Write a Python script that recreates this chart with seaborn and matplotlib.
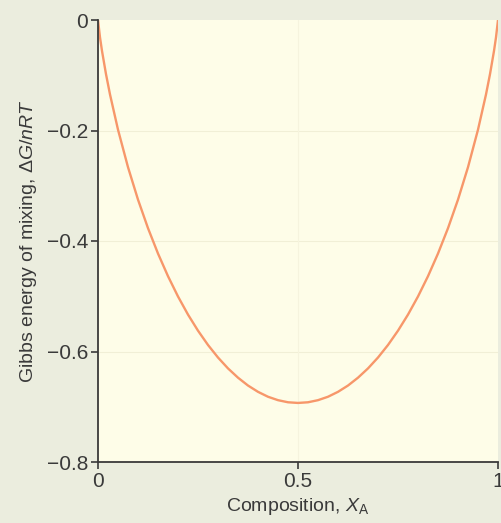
import matplotlib
matplotlib.use("Agg")
import matplotlib.pyplot as plt
import seaborn as sns
import pandas as pd
from matplotlib.ticker import FixedLocator, FixedFormatter

# Values
composition = [0.0, 0.005, 0.01, 0.02, 0.03, 0.05, 0.075, 0.1, 0.125, 0.15, 0.175, 0.2,
               0.225, 0.25, 0.275, 0.3, 0.325, 0.35, 0.375, 0.4, 0.425, 0.45, 0.475, 0.5,
               0.525, 0.55, 0.575, 0.6, 0.625, 0.65, 0.675, 0.7, 0.725, 0.75, 0.775, 0.8,
               0.825, 0.85, 0.875, 0.9, 0.925, 0.95, 0.97, 0.98, 0.99, 0.995, 1.0]
gibbs = [0.0, -0.0315, -0.056, -0.098, -0.1347, -0.1985, -0.2664, -0.3251, -0.3768, -0.4227,
         -0.4637, -0.5004, -0.5332, -0.5623, -0.5882, -0.6109, -0.6306, -0.6474, -0.6616,
         -0.673, -0.6819, -0.6881, -0.6919, -0.6931,
         -0.6919, -0.6881, -0.6819, -0.673, -0.6616, -0.6474, -0.6306, -0.6109, -0.5882,
         -0.5623, -0.5332, -0.5004, -0.4637, -0.4227, -0.3768, -0.3251, -0.2664, -0.1985,
         -0.1347, -0.098, -0.056, -0.0315, 0.0]
x_ticks = [0, 0.5, 1]
x_tick_labels = ["0", "0.5", "1"]
y_ticks = [0, -0.2, -0.4, -0.6, -0.8]
y_tick_labels = ["0", "\u22120.2", "\u22120.4", "\u22120.6", "\u22120.8"]

df = pd.DataFrame({"x": composition, "y": gibbs})

sns.set_theme(style="white")
plt.rcParams["font.family"] = ["Liberation Sans", "DejaVu Sans"]
plt.rcParams["mathtext.fontset"] = "custom"
plt.rcParams["mathtext.rm"] = "Liberation Sans"
plt.rcParams["mathtext.it"] = "Liberation Sans:italic"

text_color = "#3a3a3a"
fig = plt.figure(figsize=(5.01, 5.23), dpi=100)
fig.patch.set_facecolor("#EBEDDE")
ax = fig.add_axes([98 / 501, 1 - 462 / 523, 400 / 501, 442 / 523])
ax.set_facecolor("#FEFDE8")

sns.lineplot(data=df, x="x", y="y", ax=ax, color="#F7976A", linewidth=1.7, sort=False)

ax.set_xlim(0, 1)
ax.set_ylim(-0.8, 0)
ax.xaxis.set_major_locator(FixedLocator(x_ticks))
ax.xaxis.set_major_formatter(FixedFormatter(x_tick_labels))
ax.yaxis.set_major_locator(FixedLocator(y_ticks))
ax.yaxis.set_major_formatter(FixedFormatter(y_tick_labels))

for g in y_ticks[1:-1]:
    ax.axhline(g, color="#F1EFD6", linewidth=0.8, zorder=0)
ax.axvline(0.5, color="#F6F4DE", linewidth=0.8, zorder=0)

for s in ["top", "right"]:
    ax.spines[s].set_visible(False)
for s in ["left", "bottom"]:
    ax.spines[s].set_color(text_color)
    ax.spines[s].set_linewidth(1.3)

ax.tick_params(axis="both", direction="out", length=5, width=1.2, color=text_color,
               labelsize=15, labelcolor=text_color, pad=2, bottom=True, left=True)

ax.set_xlabel("Composition, $X_\\mathrm{A}$", fontsize=14, color=text_color, labelpad=4)
ax.set_ylabel("Gibbs energy of mixing, $\\mathit{\\Delta G/nRT}$", fontsize=14,
              color=text_color, labelpad=6)

fig.savefig("out.png", dpi=100, facecolor=fig.get_facecolor())
